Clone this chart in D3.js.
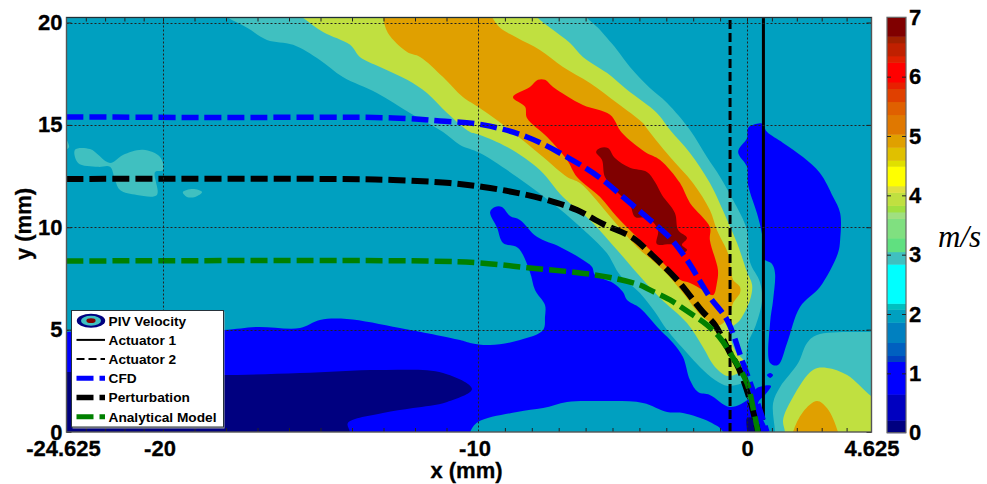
<!DOCTYPE html>
<html><head><meta charset="utf-8">
<script src="https://cdn.jsdelivr.net/npm/d3@7"></script>
<style>
html,body{margin:0;padding:0;background:#fff}
svg{display:block}
text{font-family:"Liberation Sans",Arial,sans-serif;font-weight:bold;fill:#000}
</style></head><body><svg id="c" width="987" height="484"></svg>
<script>
// Axis values
const xTickValues=[-24.625,-20,-10,0,4.625];
const xMinorValues=[-23.7,-22.775,-21.85,-20.925,-19,-18,-17,-16,-15,-14,-13,-12,-11,-9,-8,-7,-6,-5,-4,-3,-2,-1,0.925,1.85,2.775,3.7];
const yTickValues=[0,5,10,15,20];
const cbarTicks=[0,1,2,3,4,5,6,7];
// Colour bar bands
const bandEdges=[0,0.21,0.65,1.2,1.3,1.52,1.86,2.08,2.18,2.84,3.05,3.28,3.61,3.72,3.83,4.05,4.16,4.49,4.59,4.81,5.03,5.36,5.58,5.8,5.91,6.24,6.35,6.57,6.68,7];
const bandColors=["#000080","#0000c0","#0000ff","#0040c0","#0060c0","#0080c0","#00a0c0","#00c0c0","#00ffff","#40c0c0","#60e080","#80e080","#a0e080","#a0e040","#c0e040","#e0e040","#ffff00","#e0e000","#e0c000","#e0a000","#e07800","#e06000","#e04000","#e82000","#ff0000","#e02000","#c02000","#a02000","#800000"];
// Filled contour regions, [x mm, y mm]
const backgroundLevel="#00a0c0", level3="#40c0c0", level4="#c0e040", level5="#e0a000", level6="#ff0000", level7="#800000", level1="#0000ff", level0="#000080";
const lowerBlue=[[-26,4.89],[-24.625,4.89],[-18.10,4.98],[-17.02,5.13],[-15.65,5.08],[-15.02,5.47],[-14.16,5.52],[-12.48,5.08],[-10.57,4.49],[-10.25,4.35],[-9.55,4.25],[-8.44,4.49],[-7.58,4.98],[-7.51,5.62],[-7.51,6.20],[-7.88,6.94],[-8.07,7.82],[-8.51,8.99],[-9.07,9.23],[-9.29,9.97],[-9.55,10.75],[-9.37,10.99],[-9.11,10.99],[-8.81,10.55],[-8.44,10.36],[-7.81,9.53],[-6.95,9.04],[-6.21,8.50],[-5.76,8.06],[-5.65,7.67],[-4.98,7.28],[-4.61,6.84],[-4.46,6.45],[-3.98,6.06],[-3.23,4.98],[-2.75,4.35],[-2.38,3.66],[-2.12,2.54],[-1.82,1.95],[-1.38,1.81],[-0.63,1.22],[0.11,1.66],[0.37,2.15],[0.89,2.25],[0.67,1.81],[0.41,1.42],[0.56,0.73],[0.78,0],[0.85,-1],[-0.95,-1],[-0.89,0],[-1.38,0.49],[-2.38,0.93],[-2.97,0.98],[-3.87,1.42],[-5.46,1.51],[-6.69,1.47],[-7.58,1.17],[-8.55,0.98],[-10,0.49],[-10.25,0],[-10.4,-1],[-26,-1]];
const lowerNavy=[[-26,2.93],[-24.625,2.93],[-18.29,2.78],[-15.65,2.88],[-13.02,3.03],[-11.11,2.88],[-10.19,2.10],[-10.98,1.47],[-12.06,1.17],[-13.02,0.93],[-14.13,0.44],[-14.07,0],[-14.07,-1],[-26,-1]];
const smallNavy=[[0,0.68],[0.19,0.68],[0.37,0],[0.42,-1],[0,-1],[0,0]];
const blueDot=[[0.74,2.78],[0.86,2.88],[0.97,2.78],[0.86,2.64]];
const rightLobe=[[0.37,15.05],[0.04,14.85],[0,14.36],[-0.33,13.68],[0,12.95],[0.04,12.07],[0.41,10.50],[0.59,9.38],[0.59,8.50],[0.93,8.21],[1.04,7.77],[0.97,6.45],[0.86,5.37],[0.86,3.37],[1.15,3.27],[1.49,4.35],[1.97,6.11],[2.71,7.08],[3.38,8.74],[3.46,9.38],[3.46,10.70],[3.20,11.48],[2.71,12.65],[2.08,13.43],[1.34,14.12],[0.74,14.66],[0.56,15.05]];
const rightTeal=[[6,4.89],[4.65,4.89],[2.60,4.74],[2.23,4.35],[1.90,3.37],[1.23,2.20],[0.97,1.42],[1.04,0],[1.05,-1],[6,-1]];
const rightYellow=[[1.41,0],[1.34,0.59],[1.71,1.71],[2.45,3.03],[2.97,3.13],[3.72,2.78],[4.65,1.71],[6,0.6],[6,-1],[1.4,-1]];
const rightOrange=[[1.71,0],[2.08,0.98],[2.60,1.51],[2.97,1.17],[3.38,0],[3.5,-1],[1.6,-1]];
const plumeTeal=[[-18.6,21],[-17.97,20.27],[-17.33,19.74],[-16.70,19.15],[-15.87,18.91],[-15.02,18.17],[-14.29,17.34],[-13.21,16.56],[-12.16,15.58],[-11.11,14.65],[-10.57,14.02],[-9.93,13.63],[-8.55,12.46],[-7.06,10.99],[-5.95,9.72],[-5.21,8.74],[-4.72,7.67],[-3.98,6.79],[-3.42,5.86],[-2.97,4.98],[-2.23,3.86],[-1.75,3.18],[-1.19,2.54],[-0.71,2.25],[-0.07,2.49],[-0.07,2.78],[-0.04,3.52],[0.04,4.35],[0.33,5.23],[0.56,6.45],[0.48,7.33],[0.11,8.30],[0,9.87],[-0.52,11.33],[-1.0,12.46],[-1.49,13.43],[-2.12,14.75],[-2.97,16.07],[-3.61,16.80],[-4.35,17.83],[-4.83,18.66],[-5.21,19.25],[-5.54,19.74],[-5.98,20.27],[-6.4,21]];
const plumeYellow=[[-16.2,21],[-15.59,20.27],[-14.92,19.54],[-14.06,18.91],[-13.75,18.32],[-13.11,17.83],[-12.25,17.20],[-11.62,16.56],[-10.98,15.58],[-10.25,14.65],[-9.93,14.51],[-8.92,13.92],[-7.70,12.80],[-6.84,11.48],[-5.84,10.36],[-4.83,8.89],[-4.09,7.77],[-3.23,6.55],[-2.23,5.32],[-1.64,4.15],[-1.19,3.18],[-0.71,2.74],[-0.15,3.03],[-0.07,3.37],[-0.45,4.01],[-0.63,4.98],[-0.26,5.47],[0.11,6.45],[0.19,7.18],[0,7.82],[-0.37,9.23],[-0.74,10.36],[-1.38,12.16],[-2.12,13.63],[-2.86,14.75],[-3.35,15.58],[-4.46,16.71],[-5.21,17.54],[-6.10,18.32],[-6.58,19.0],[-7.32,19.74],[-7.81,20.27],[-8.2,21]];
const plumeOrange=[[-13.1,21],[-13.02,20.27],[-12.86,19.49],[-12.25,18.56],[-11.84,18.32],[-11.11,17.34],[-10.48,16.36],[-10,15.88],[-8.81,14.75],[-7.58,13.43],[-6.69,12.46],[-6.21,12.16],[-4.98,10.36],[-4.09,9.04],[-3.12,7.91],[-2.38,6.79],[-1.64,5.62],[-1.0,5.23],[-0.63,5.81],[-0.52,6.30],[-0.26,6.79],[-0.26,7.08],[-0.52,7.43],[-0.59,7.91],[-0.71,8.74],[-1.12,9.87],[-1.38,10.84],[-2.01,12.16],[-2.86,13.43],[-3.68,14.75],[-3.87,15.09],[-4.83,16.07],[-5.84,17.05],[-6.84,17.83],[-7.70,18.66],[-8.55,19.25],[-9.18,19.74],[-9.48,20.27],[-9.8,21]];
const plumeRed=[[-8.70,16.36],[-8.07,16.85],[-7.77,17.20],[-7.51,17.20],[-7.21,16.85],[-6.10,15.97],[-5.09,15.49],[-4.65,14.61],[-3.79,13.68],[-3.23,13.29],[-2.49,12.16],[-2.12,11.19],[-1.38,10.01],[-1.38,9.38],[-1.08,7.91],[-1.12,7.28],[-1.26,6.69],[-1.64,6.94],[-2.12,7.28],[-2.49,7.43],[-3.12,8.26],[-3.98,9.38],[-4.83,10.50],[-5.46,11.48],[-6.32,12.46],[-6.69,13.29],[-7.43,14.41],[-8.18,15.34],[-8.25,15.88]];
const plumeCore=[[-5.61,13.68],[-5.46,13.87],[-5.17,13.87],[-4.91,13.38],[-4.35,12.90],[-3.72,12.70],[-3.42,12.21],[-3.16,11.58],[-2.68,10.70],[-2.56,9.87],[-2.23,9.48],[-2.42,9.14],[-2.23,8.89],[-2.42,8.74],[-2.75,9.14],[-3.35,9.18],[-3.31,9.87],[-3.68,10.45],[-4.16,10.50],[-4.35,11.09],[-4.83,11.72],[-5.28,12.46],[-5.39,13.29]];
const blobA=[[-24.22,13.78],[-23.50,13.82],[-22.54,13.14],[-21.92,13.53],[-20.96,13.78],[-20.14,13.43],[-20,12.80],[-20.38,12.70],[-20.29,11.58],[-21.25,11.58],[-22.06,11.82],[-22.30,12.31],[-22.54,12.95],[-23.12,12.95],[-24.07,13.14]];
const blobB=[[-19.37,11.72],[-19.05,11.87],[-18.76,11.72],[-18.98,11.48],[-19.24,11.48]];
const blobC=[[-24.625,14.26],[-24.50,13.92],[-24.625,13.82]];
// Trajectories, [x mm, y mm]
const cfdLine=[[-24.625,15.39],[-18.83,15.36],[-12.70,15.34],[-11.21,15.19],[-9.81,15.0],[-8.18,14.41],[-6.69,13.43],[-5.46,12.41],[-4.61,11.48],[-3.61,10.36],[-2.86,9.48],[-2.23,8.40],[-1.38,6.59],[-0.74,5.47],[-0.15,3.37],[0.48,1.07],[0.74,0]];
const perturbationLine=[[-24.625,12.36],[-14.79,12.36],[-12.70,12.31],[-10.89,12.16],[-9.81,11.97],[-8.55,11.68],[-7.43,11.33],[-6.32,10.84],[-5.35,10.16],[-4.24,9.48],[-3.61,8.74],[-2.60,7.43],[-1.64,5.86],[-1.19,5.23],[-0.63,3.86],[-0.33,3.18],[0.11,1.56],[0.41,0]];
const analyticalLine=[[-24.625,8.35],[-11.62,8.35],[-9.93,8.26],[-8.07,8.01],[-6.21,7.77],[-4.98,7.52],[-3.98,7.18],[-3.61,6.94],[-2.86,6.45],[-2.12,5.81],[-1.49,5.23],[-1.0,4.59],[-0.63,3.86],[0,2.39],[0.22,1.22],[0.41,0]];
const actuator1=[[0.61,0.6],[0.61,20.25]];
const actuator2=[[-0.63,0],[-0.63,20.12]];
const legendLabels=["PIV Velocity","Actuator 1","Actuator 2","CFD","Perturbation","Analytical Model"];

const svg=d3.select("#c");
const x=d3.scaleLinear().domain(xTickValues).range([66.5,163,478,747,871.5]);
const y=d3.scaleLinear().domain([0,20]).range([432,22.5]);
const cb=d3.scaleLinear().domain([0,7]).range([432.7,17.3]);
const L={l:x(-24.625),r:x(4.625),t:17.5,b:y(0)};
svg.append("defs").append("clipPath").attr("id","pc").append("rect").attr("x",L.l).attr("y",L.t).attr("width",L.r-L.l).attr("height",L.b-L.t);
const plot=svg.append("g").attr("clip-path","url(#pc)");
plot.append("rect").attr("x",L.l).attr("y",L.t).attr("width",L.r-L.l).attr("height",L.b-L.t).attr("fill",backgroundLevel);
const area=d3.line().x(d=>x(d[0])).y(d=>y(d[1])).curve(d3.curveCatmullRomClosed.alpha(.5));
const fills=[[blobA,level3],[blobB,level3],[blobC,level3],[lowerBlue,level1],[lowerNavy,level0],[smallNavy,level0],[blueDot,level1],[rightLobe,level1],[rightTeal,level3],[rightYellow,level4],[rightOrange,level5],[plumeTeal,level3],[plumeYellow,level4],[plumeOrange,level5],[plumeRed,level6],[plumeCore,level7]];
plot.selectAll("path.f").data(fills).join("path").attr("class","f").attr("d",d=>area(d[0])).attr("fill",d=>d[1]);
// grid
const grid=svg.append("g").attr("stroke","#222").attr("stroke-width",1).attr("stroke-dasharray","2,2");
grid.selectAll("line.v").data(xTickValues.slice(1,4)).join("line").attr("class","v").attr("x1",d=>x(d)+.5).attr("x2",d=>x(d)+.5).attr("y1",L.t).attr("y2",L.b);
grid.selectAll("line.h").data(yTickValues.slice(1)).join("line").attr("class","h").attr("y1",d=>Math.round(y(d))+.5).attr("y2",d=>Math.round(y(d))+.5).attr("x1",L.l).attr("x2",L.r);
// trajectories
const smooth=d3.line().x(d=>x(d[0])).y(d=>y(d[1])).curve(d3.curveCatmullRom.alpha(.5));
plot.append("path").attr("d",smooth(actuator2)).attr("fill","none").attr("stroke","#000").attr("stroke-width",3).attr("stroke-dasharray","9,4");
plot.append("path").attr("d",smooth(actuator1)).attr("fill","none").attr("stroke","#000").attr("stroke-width",3);
[[cfdLine,"#0000ff",5.5],[perturbationLine,"#000",6],[analyticalLine,"#008000",5.5]].forEach(s=>{
  plot.append("path").attr("d",smooth(s[0])).attr("fill","none").attr("stroke",s[1]).attr("stroke-width",s[2]).attr("stroke-dasharray","17,6");
});
// axes
const fs=22;
function styleAxis(g){g.select(".domain").remove();g.selectAll("text").attr("font-size",fs).style("font-family",'"Liberation Sans",Arial,sans-serif').style("font-weight","bold").attr("fill","#000").attr("stroke","#000").attr("stroke-width",.3);g.selectAll("line").attr("stroke","#222");}
const fmt=d=>String(d);
svg.append("g").attr("transform",`translate(0,${L.b})`).call(d3.axisBottom(x).tickValues(xTickValues).tickSize(0).tickPadding(8).tickFormat(fmt)).call(styleAxis).selectAll("text").attr("dx",d=>d<0?-3.5:0);
svg.append("g").attr("transform",`translate(0,${L.b})`).call(d3.axisBottom(x).tickValues(xMinorValues).tickSize(-4).tickFormat("")).call(styleAxis);
svg.append("g").attr("transform",`translate(0,${L.t})`).call(d3.axisTop(x).tickValues(xMinorValues.concat([-20,-10,0])).tickSize(-4).tickFormat("")).call(styleAxis);
svg.append("g").attr("transform",`translate(${L.l},0)`).call(d3.axisLeft(y).tickValues(yTickValues).tickSize(-5).tickPadding(4).tickFormat(fmt)).call(styleAxis);
svg.append("g").attr("transform",`translate(${L.r},0)`).call(d3.axisRight(y).tickValues(yTickValues).tickSize(-5).tickFormat("")).call(styleAxis);
// frame
svg.append("rect").attr("x",L.l).attr("y",L.t).attr("width",L.r-L.l).attr("height",L.b-L.t).attr("fill","none").attr("stroke","#555").attr("stroke-width",1.4);
svg.append("line").attr("x1",L.l).attr("x2",L.r).attr("y1",L.t).attr("y2",L.t).attr("stroke","#1c3038").attr("stroke-width",1.2);
// axis titles
svg.append("text").attr("x",466.5).attr("y",478).attr("text-anchor","middle").attr("font-size",fs).attr("stroke","#000").attr("stroke-width",.3).text("x (mm)");
svg.append("text").attr("transform","translate(31,224) rotate(-90)").attr("text-anchor","middle").attr("font-size",fs).attr("stroke","#000").attr("stroke-width",.3).text("y (mm)");
// colour bar
const cbX0=887,cbX1=906;
svg.append("g").selectAll("rect").data(bandColors).join("rect").attr("x",cbX0).attr("width",cbX1-cbX0).attr("y",(d,i)=>cb(bandEdges[i+1])).attr("height",(d,i)=>cb(bandEdges[i])-cb(bandEdges[i+1])+.5).attr("fill",d=>d);
svg.append("rect").attr("x",cbX0).attr("y",cb(7)).attr("width",cbX1-cbX0).attr("height",cb(0)-cb(7)).attr("fill","none").attr("stroke","#666").attr("stroke-width",1.2);
svg.append("g").attr("transform",`translate(${cbX1},0)`).call(d3.axisRight(cb).tickValues(cbarTicks).tickSize(0).tickPadding(3).tickFormat(fmt)).call(styleAxis);
svg.append("g").attr("transform",`translate(${cbX0},0)`).call(d3.axisLeft(cb).tickValues(cbarTicks.slice(1,7)).tickSize(-4).tickFormat("")).call(styleAxis);
svg.append("g").attr("transform",`translate(${cbX1},0)`).call(d3.axisRight(cb).tickValues(cbarTicks.slice(1,7)).tickSize(-4).tickFormat("")).call(styleAxis);
svg.append("text").attr("x",938).attr("y",247).attr("font-size",31).style("font-family",'"Liberation Serif",serif').style("font-style","italic").style("font-weight","normal").text("m/s");
// legend
const lg=svg.append("g");
lg.append("rect").attr("x",72.5).attr("y",311.5).attr("width",152).attr("height",117).attr("fill","#aaa");
lg.append("rect").attr("x",71.5).attr("y",310.5).attr("width",152).attr("height",116.5).attr("fill","#fff").attr("stroke","#26323a").attr("stroke-width",1);
const rowY=d3.scalePoint().domain(legendLabels).range([320.7,416.7]);
lg.selectAll("text").data(legendLabels).join("text").attr("x",108.5).attr("y",d=>rowY(d)+4.8).attr("font-size",13.7).text(d=>d);
const ic=[91,rowY("PIV Velocity")];
[[14.2,7,"#000080"],[10,5,"#40c0c0"],[4.6,2.4,"#800000"]].forEach(e=>lg.append("ellipse").attr("cx",ic[0]).attr("cy",ic[1]).attr("rx",e[0]).attr("ry",e[1]).attr("fill",e[2]));
[["Actuator 1","#000",2,null],["Actuator 2","#000",2,"8,4"],["CFD","#0000ff",5,"17,6"],["Perturbation","#000",5.5,"17,6"],["Analytical Model","#008000",5,"17,6"]].forEach(s=>{
 lg.append("line").attr("x1",76.5).attr("x2",105).attr("y1",rowY(s[0])).attr("y2",rowY(s[0])).attr("stroke",s[1]).attr("stroke-width",s[2]).attr("stroke-dasharray",s[3]);
});
</script></body></html>
